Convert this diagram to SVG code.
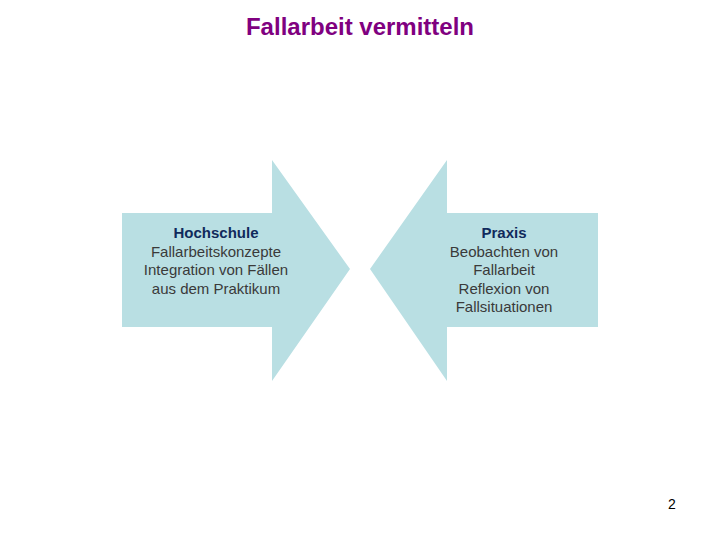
<svg xmlns="http://www.w3.org/2000/svg" width="720" height="540" viewBox="0 0 720 540">
<style>
.a{fill:#b9dfe3}
.t{font-family:"Liberation Sans",Arial,sans-serif;font-size:15px;text-anchor:middle;fill:#3a3a3a}
.h{font-weight:bold;fill:#102a5c}
</style>
<rect width="720" height="540" fill="#fff"/>
<text x="360" y="35" font-family="Liberation Sans,Arial,sans-serif" font-size="24" font-weight="bold" fill="#800080" text-anchor="middle">Fallarbeit vermitteln</text>
<g id="hochschule">
<polygon class="a" points="122,213 272,213 272,160 350,269 272,381 272,327 122,327"/>
<text class="t" x="216" y="238"><tspan class="h">Hochschule</tspan><tspan x="216" dy="18.5">Fallarbeitskonzepte</tspan><tspan x="216" dy="18.5">Integration von Fällen</tspan><tspan x="216" dy="18.5">aus dem Praktikum</tspan></text>
</g>
<g id="praxis">
<polygon class="a" points="598,213 447,213 447,160 370,269 447,381 447,327 598,327"/>
<text class="t" x="504" y="238"><tspan class="h">Praxis</tspan><tspan x="504" dy="18.5">Beobachten von</tspan><tspan x="504" dy="18.5">Fallarbeit</tspan><tspan x="504" dy="18.5">Reflexion von</tspan><tspan x="504" dy="18.5">Fallsituationen</tspan></text>
</g>
<g id="connectors"/>
<text x="672" y="509" font-family="Liberation Sans,Arial,sans-serif" font-size="14" fill="#000" text-anchor="middle">2</text>
</svg>
